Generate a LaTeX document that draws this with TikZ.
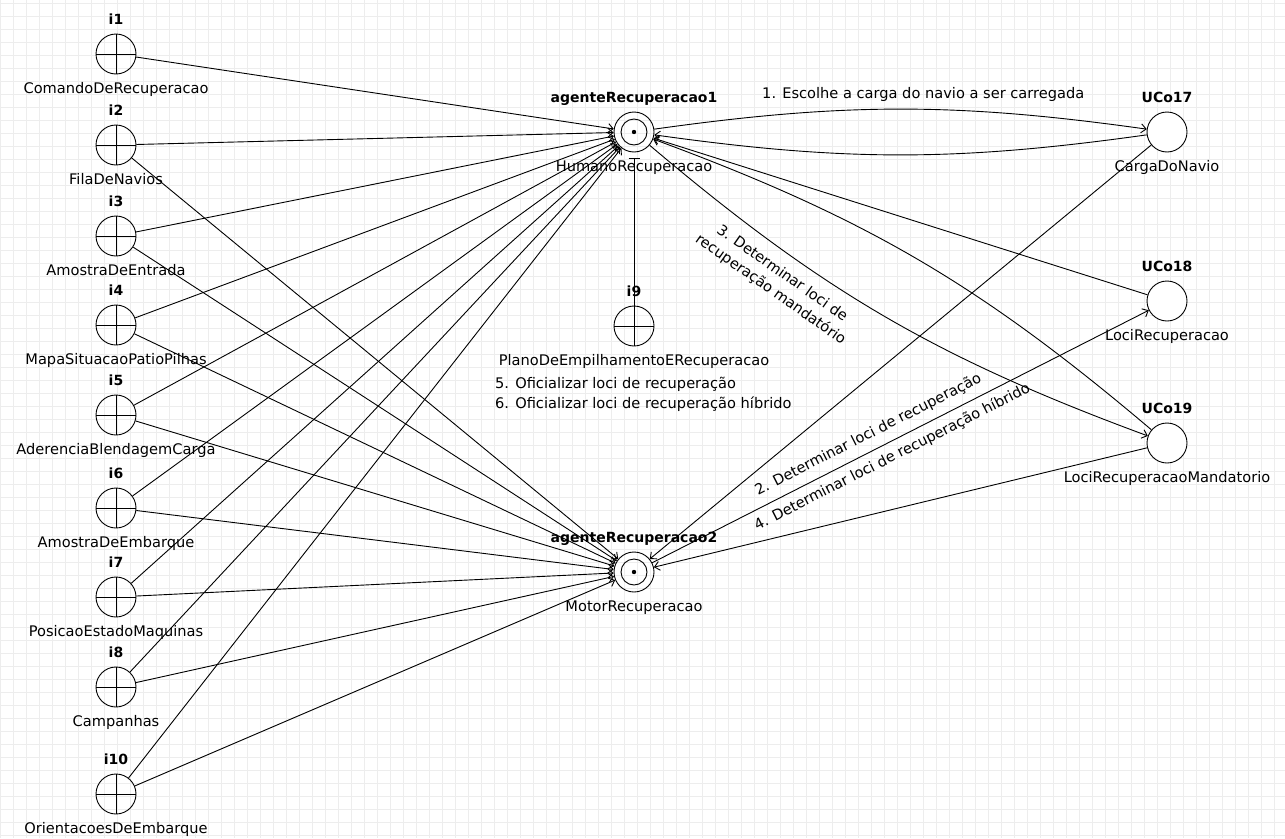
\documentclass[tikz,border=0pt]{standalone}
\usepackage{fontspec}
\setmainfont{DejaVu Sans}
\usetikzlibrary{arrows.meta}
\newcommand{\taille}{\fontsize{14.6}{20}\selectfont}
\newcommand{\titre}{\fontsize{14}{16}\selectfont\bfseries}
\newcommand{\fleche}{-{Straight Barb[length=5pt,width=9pt]}}
\tikzset{
  lbl/.style={font=\taille, inner sep=0pt, text height=0.75em, text depth=0.25em},
  ttl/.style={font=\titre, inner sep=0pt, text height=0.75em, text depth=0.25em},
  ent/.style={circle, draw, line width=0.9pt, minimum size=40pt, inner sep=0pt,
    path picture={\draw[line width=0.9pt] (path picture bounding box.north) -- (path picture bounding box.south)
      (path picture bounding box.west) -- (path picture bounding box.east);}},
  agt/.style={circle, draw, line width=0.9pt, minimum size=40pt, inner sep=0pt,
    path picture={\draw[line width=0.9pt] (path picture bounding box.center) circle (13pt);
      \fill (path picture bounding box.center) circle (2.2pt);}},
  uco/.style={circle, draw, line width=0.9pt, fill=white, minimum size=40pt, inner sep=0pt},
  fil/.style={line width=0.9pt, \fleche},
  grille/.style={black!7, line width=0.7pt}
}
\newcommand{\noeud}[6]{\node[#1, label={[ttl,label distance=6pt]above:#5},
  label={[lbl,label distance=11pt]below:#6}] (#2) at (#3,#4) {}}

\begin{document}
\begin{tikzpicture}[x=1pt, y=-1pt]
\useasboundingbox (0,0) rectangle (1285,838);
%Grid
	\fill[white] (0,0) rectangle (1285,838);
	\foreach \x in {0,13,...,1285} \draw[grille] (\x,0) -- (\x,838);
	\foreach \y in {3,16,...,838} \draw[grille] (0,\y) -- (1285,\y);
%Inputs
	\noeud{ent}{i1}{116}{54}{i1}{ComandoDeRecuperacao};
	\noeud{ent}{i2}{116}{145}{i2}{FilaDeNavios};
	\noeud{ent}{i3}{116}{236}{i3}{AmostraDeEntrada};
	\noeud{ent}{i4}{116}{325}{i4}{MapaSituacaoPatioPilhas};
	\noeud{ent}{i5}{116}{415}{i5}{AderenciaBlendagemCarga};
	\noeud{ent}{i6}{116}{508}{i6}{AmostraDeEmbarque};
	\noeud{ent}{i7}{116}{597}{i7}{PosicaoEstadoMaquinas};
	\noeud{ent}{i8}{116}{687}{i8}{Campanhas};
	\noeud{ent}{i10}{116}{794}{i10}{OrientacoesDeEmbarque};
	\noeud{ent}{i9}{634}{326}{i9}{PlanoDeEmpilhamentoERecuperacao};
	\node[lbl, anchor=north west, align=left, text height=, text depth=] (msg56) at (495,377)
		{5. Oficializar loci de recuperação\\6. Oficializar loci de recuperação híbrido};
%Agents
	\noeud{agt}{ag1}{634}{132}{agenteRecuperacao1}{HumanoRecuperacao};
	\noeud{agt}{ag2}{634}{572}{agenteRecuperacao2}{MotorRecuperacao};
%Use cases
	\noeud{uco}{uc17}{1167}{132}{UCo17}{CargaDoNavio};
	\noeud{uco}{uc18}{1167}{301}{UCo18}{LociRecuperacao};
	\noeud{uco}{uc19}{1167}{443}{UCo19}{LociRecuperacaoMandatorio};
%Inputs to agents
	\draw[fil] (i1) -- (ag1);
	\foreach \i in {i2,i3,i4,i5,i6,i7,i8,i10}{
		\draw[fil] (\i) -- (ag1);
		\draw[fil] (\i) -- (ag2);
	}
	\draw[line width=0.9pt, {Bar[width=11pt]}-, shorten <=6pt] (ag1) -- (i9);
%Agents and use cases
	\draw[fil] (ag1) to[bend left=8] node[lbl, pos=0.55, above=8pt] (msg1)
		{1. Escolhe a carga do navio a ser carregada} (uc17);
	\draw[fil] (uc17) to[bend left=8] (ag1);
	\draw[fil] (uc18) -- (ag1);
	\draw[fil] (ag1) to[bend right=10] node[lbl, pos=0.3, sloped, below=12pt, align=center,
		text height=, text depth=] (msg3) {3. Determinar loci de\\recuperação mandatório} (uc19);
	\draw[fil] (uc19) to[bend right=10] (ag1);
	\draw[fil] (uc17) -- (ag2);
	\draw[fil] (ag2) -- node[lbl, pos=0.45, sloped, above=9pt] (msg2) {2. Determinar loci de recuperação}
		node[lbl, pos=0.47, sloped, below=11pt] (msg4) {4. Determinar loci de recuperação híbrido} (uc18);
	\draw[fil] (uc19) -- (ag2);
\end{tikzpicture}
\end{document}
